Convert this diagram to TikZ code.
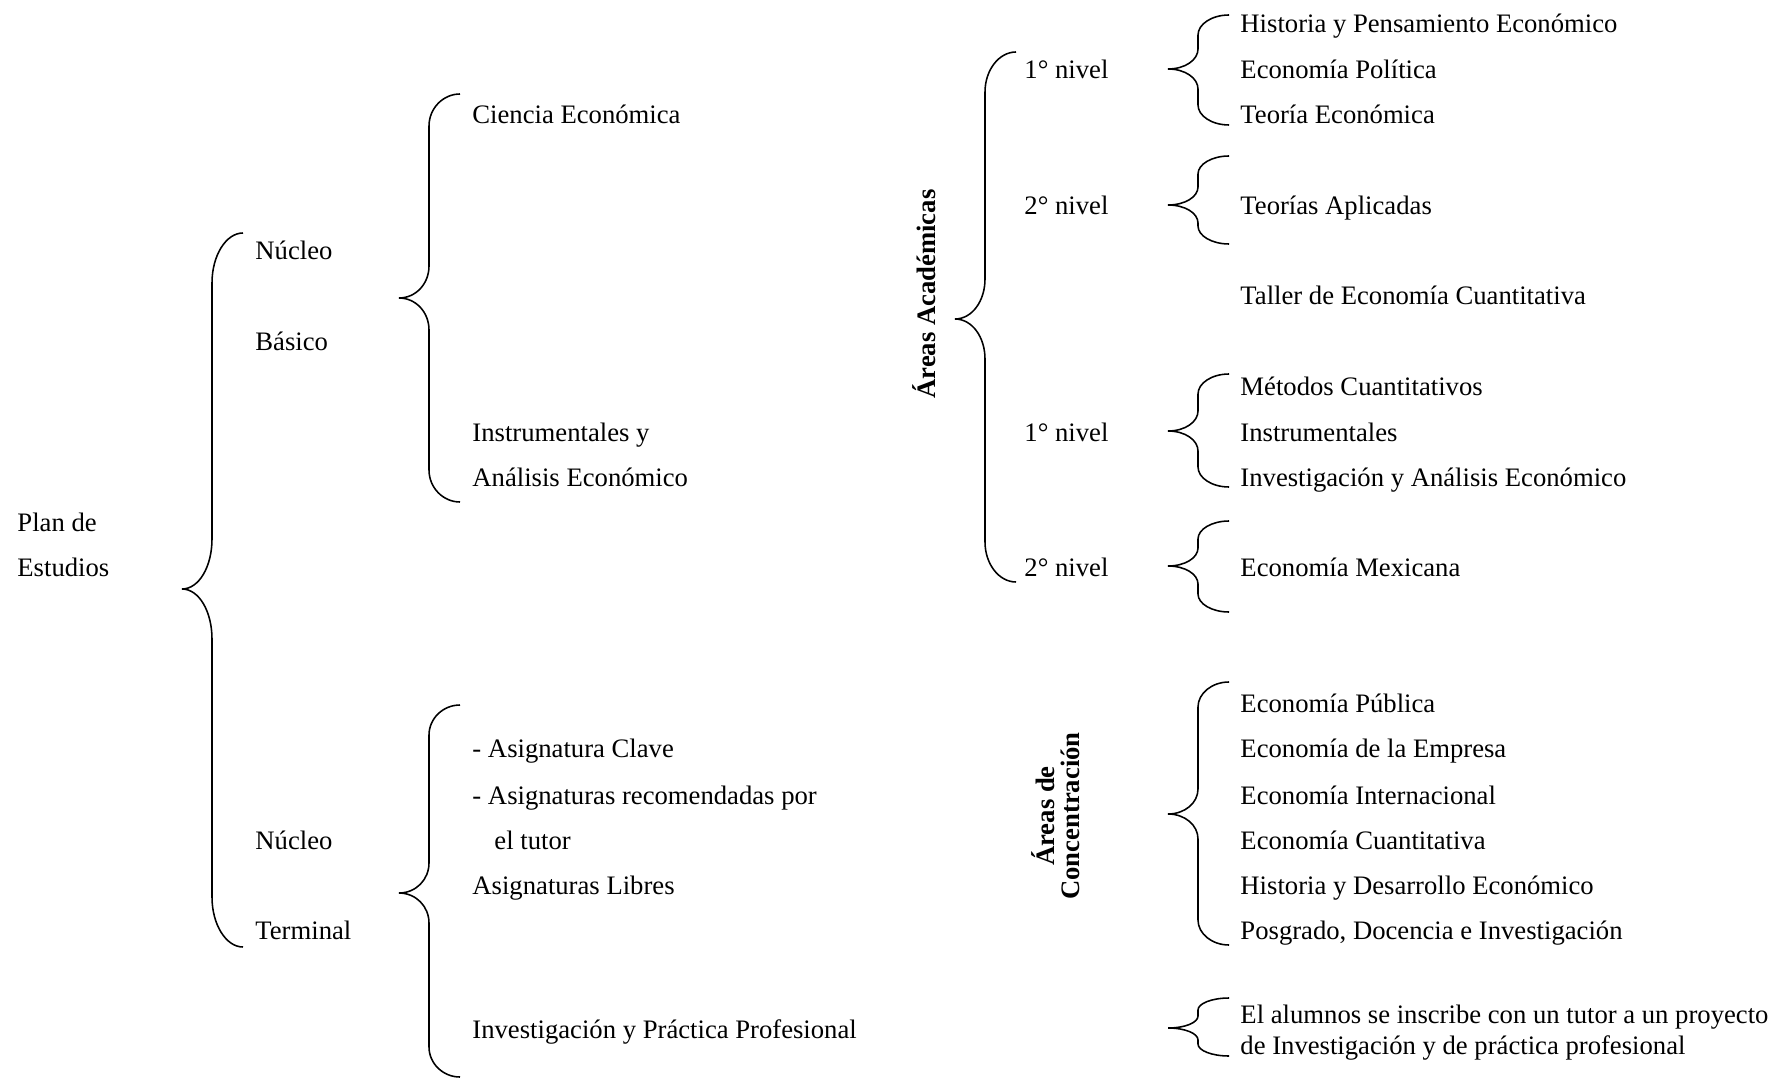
\documentclass[tikz,border=0pt]{standalone}
\usepackage{fontspec}
\setmainfont{Liberation Serif}
\usepackage{tikz}

\tikzset{txt/.style={anchor=west, inner sep=0pt, text height=11pt, text depth=2pt},
  rot/.style={rotate=90, inner sep=0pt, align=center, font=\fontsize{12}{11.2}\selectfont\bfseries}}

% llave: tip x, tip y, top, bottom, hook
\newcommand{\llave}[5]{%
 \draw[line width=0.7pt] (#1+61,#3) .. controls (#1+44,#3) and (#1+30,#3+0.45*#5) .. (#1+30,#3+#5)
   -- (#1+30,#2-#5) .. controls (#1+30,#2-0.45*#5) and (#1+17,#2) .. (#1,#2)
   .. controls (#1+17,#2) and (#1+30,#2+0.45*#5) .. (#1+30,#2+#5)
   -- (#1+30,#4-#5) .. controls (#1+30,#4-0.45*#5) and (#1+44,#4) .. (#1+61,#4);}

\begin{document}
\begin{tikzpicture}[x=0.45pt, y=-0.45pt, font=\fontsize{12}{14}\selectfont]
\useasboundingbox (0,0) rectangle (1773,1079);

\node[txt] (plan) at (17,521) {Plan de};
\node[txt] (estudios) at (17,566) {Estudios};
\llave{182}{589}{233}{947}{50}

\node[txt] (nucleoB) at (255,250) {Núcleo};
\node[txt] (basico) at (255,340) {Básico};
\node[txt] (nucleoT) at (255,839) {Núcleo};
\node[txt] (terminal) at (255,929) {Terminal};
\llave{399}{298}{94}{502}{32}
\llave{399}{893}{705}{1077}{30}

\node[txt] (ciencia) at (472,114) {Ciencia Económica};
\node[txt] (instr) at (472,431) {Instrumentales y};
\node[txt] (analisis) at (472,476) {Análisis Económico};
\node[txt] (clave) at (472,747) {- Asignatura Clave};
\node[txt] (recom) at (472,794) {- Asignaturas recomendadas por};
\node[txt] (tutor) at (494,839) {el tutor};
\node[txt] (libres) at (472,884) {Asignaturas Libres};
\node[txt] (invprac) at (472,1028) {Investigación y Práctica Profesional};

\node[rot] (academicas) at (924,294) {Áreas Académicas};
\llave{955}{319}{52}{582}{40}
\node[txt] (nivA1) at (1024,69) {1° nivel};
\node[txt] (nivA2) at (1024,205) {2° nivel};
\node[txt] (nivB1) at (1024,431) {1° nivel};
\node[txt] (nivB2) at (1024,566) {2° nivel};
\llave{1168}{69}{15}{125}{20}
\llave{1168}{205}{156}{244}{18}
\llave{1168}{431}{374}{487}{20}
\llave{1168}{566}{521}{612}{18}

\node[txt] (hist) at (1240,23) {Historia y Pensamiento Económico};
\node[txt] (polit) at (1240,69) {Economía Política};
\node[txt] (teoria) at (1240,114) {Teoría Económica};
\node[txt] (aplic) at (1240,205) {Teorías Aplicadas};
\node[txt] (taller) at (1240,295) {Taller de Economía Cuantitativa};
\node[txt] (metodos) at (1240,386) {Métodos Cuantitativos};
\node[txt] (instr2) at (1240,431) {Instrumentales};
\node[txt] (invanal) at (1240,476) {Investigación y Análisis Económico};
\node[txt] (mex) at (1240,566) {Economía Mexicana};

\node[rot] (concentracion) at (1056,816) {Áreas de\\Concentración};
\llave{1168}{814}{682}{945}{25}
\node[txt] (publica) at (1240,702) {Economía Pública};
\node[txt] (empresa) at (1240,747) {Economía de la Empresa};
\node[txt] (internac) at (1240,794) {Economía Internacional};
\node[txt] (cuant) at (1240,839) {Economía Cuantitativa};
\node[txt] (histdes) at (1240,884) {Historia y Desarrollo Económico};
\node[txt] (posgrado) at (1240,929) {Posgrado, Docencia e Investigación};

\llave{1168}{1028}{998}{1056}{12}
\node[txt] (alumno) at (1240,1013) {El alumnos se inscribe con un tutor a un proyecto};
\node[txt] (proyecto) at (1240,1044) {de Investigación y de práctica profesional};
\end{tikzpicture}
\end{document}
